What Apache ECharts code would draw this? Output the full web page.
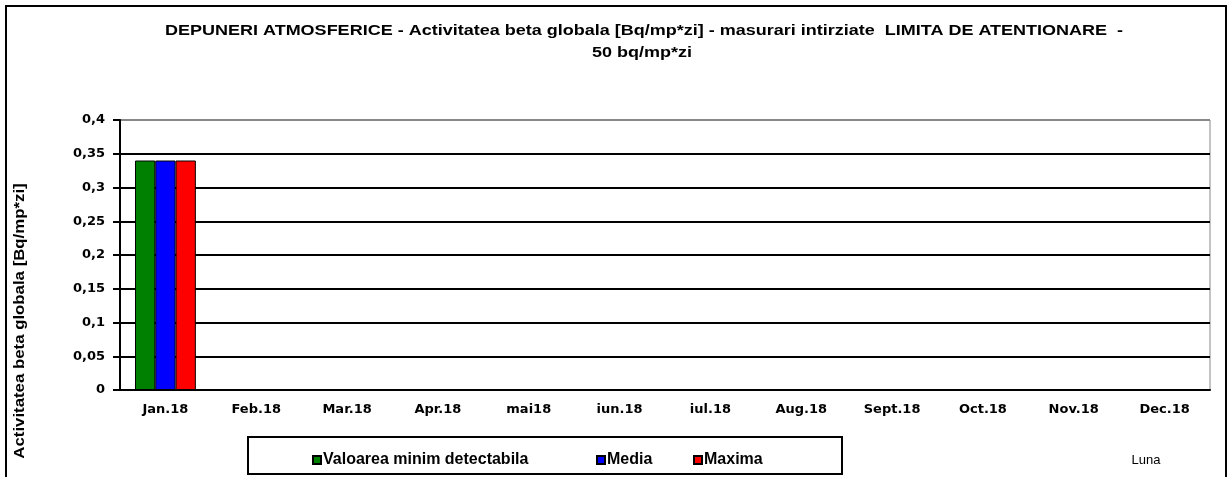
<!DOCTYPE html>
<html>
<head>
<meta charset="utf-8">
<script src="https://cdn.jsdelivr.net/npm/echarts@6/dist/echarts.min.js"></script>
<style>
html,body{margin:0;padding:0;background:#fff;}
#container{width:1230px;height:477px;}
</style>
</head>
<body>
<div id="container"></div>
<script>
var months = ['Jan.18','Feb.18','Mar.18','Apr.18','mai18','iun.18','iul.18','Aug.18','Sept.18','Oct.18','Nov.18','Dec.18'];
var valMinDet = [0.34, null, null, null, null, null, null, null, null, null, null, null];
var media = [0.34, null, null, null, null, null, null, null, null, null, null, null];
var maxima = [0.34, null, null, null, null, null, null, null, null, null, null, null];
var seriesNames = ['Valoarea minim detectabila', 'Media', 'Maxima'];

var dom = document.getElementById("container");
var myChart = echarts.init(dom);
var font = 'Liberation Sans, Arial, sans-serif';
var tickFont = 'DejaVu Sans, sans-serif';

// one legend per item so the spacing can follow the picture
function legendItem(name, left) {
    return {
        data: [name],
        icon: 'rect',
        left: left,
        top: 452,
        padding: 0,
        itemWidth: 8,
        itemHeight: 8,
        itemGap: 0,
        textStyle: {fontFamily: font, fontWeight: 'bold', fontSize: 16, color: '#000', padding: [0, 0, 0, -3]}
    };
}

var option = {
    animation: false,
    textStyle: {fontFamily: font},
    grid: {
        left: 120,
        right: 20,
        top: 120,
        bottom: 87,
        show: true,
        borderColor: '#888',
        borderWidth: 1
    },
    legend: [
        legendItem(seriesNames[0], 312),
        legendItem(seriesNames[1], 596),
        legendItem(seriesNames[2], 693)
    ],
    xAxis: [{
        type: 'category',
        data: months,
        axisLine: {lineStyle: {color: '#000', width: 2}},
        axisTick: {length: 6, lineStyle: {color: '#000', width: 2}},
        axisLabel: {color: '#000', fontWeight: 'bold', fontSize: 13, margin: 13, fontFamily: tickFont}
    }],
    yAxis: [{
        type: 'value',
        min: 0,
        max: 0.4,
        interval: 0.05,
        axisLine: {show: true, lineStyle: {color: '#000', width: 2}},
        axisTick: {show: true, length: 7, lineStyle: {color: '#000', width: 2}},
        axisLabel: {
            color: '#000', fontWeight: 'bold', fontSize: 13, margin: 15, fontFamily: tickFont,
            formatter: function (v) { return String(Math.round(v * 100) / 100).replace('.', ','); }
        },
        splitLine: {lineStyle: {color: ['#000','#000','#000','#000','#000','#000','#000','#000','#888'], width: 2}}
    }],
    series: [
        {name: seriesNames[0], type: 'bar', data: valMinDet, barGap: '0%', barCategoryGap: '33%',
            itemStyle: {color: '#008000', borderColor: '#000', borderWidth: 1}},
        {name: seriesNames[1], type: 'bar', data: media,
            itemStyle: {color: '#0000ff', borderColor: '#000', borderWidth: 1}},
        {name: seriesNames[2], type: 'bar', data: maxima,
            itemStyle: {color: '#ff0000', borderColor: '#000', borderWidth: 1}}
    ],
    graphic: [
        {type: 'rect', shape: {x: 6, y: 6, width: 1220, height: 472}, silent: true, z: -1,
            style: {fill: 'none', stroke: '#000', lineWidth: 2}},
        {type: 'rect', shape: {x: 248, y: 437, width: 594, height: 37}, silent: true, z: -1,
            style: {fill: 'none', stroke: '#000', lineWidth: 2}},
        {type: 'text', x: 644, y: 31, scaleX: 1.2, silent: true,
            style: {text: 'DEPUNERI ATMOSFERICE - Activitatea beta globala [Bq/mp*zi] - masurari intirziate  LIMITA DE ATENTIONARE  -',
                font: 'bold 15px Liberation Sans, Arial, sans-serif', fill: '#000', align: 'center', verticalAlign: 'middle'}},
        {type: 'text', x: 642, y: 53, scaleX: 1.2, silent: true,
            style: {text: '50 bq/mp*zi',
                font: 'bold 15px Liberation Sans, Arial, sans-serif', fill: '#000', align: 'center', verticalAlign: 'middle'}},
        {type: 'text', x: 20, y: 321, rotation: Math.PI / 2, scaleX: 1.2, silent: true,
            style: {text: 'Activitatea beta globala [Bq/mp*zi]',
                font: 'bold 14px Liberation Sans, Arial, sans-serif', fill: '#000', align: 'center', verticalAlign: 'middle'}},
        {type: 'text', x: 1146, y: 460, silent: true,
            style: {text: 'Luna', font: '13px Liberation Sans, Arial, sans-serif', fill: '#000', align: 'center', verticalAlign: 'middle'}}
    ]
};
myChart.setOption(option);
</script>
</body>
</html>
